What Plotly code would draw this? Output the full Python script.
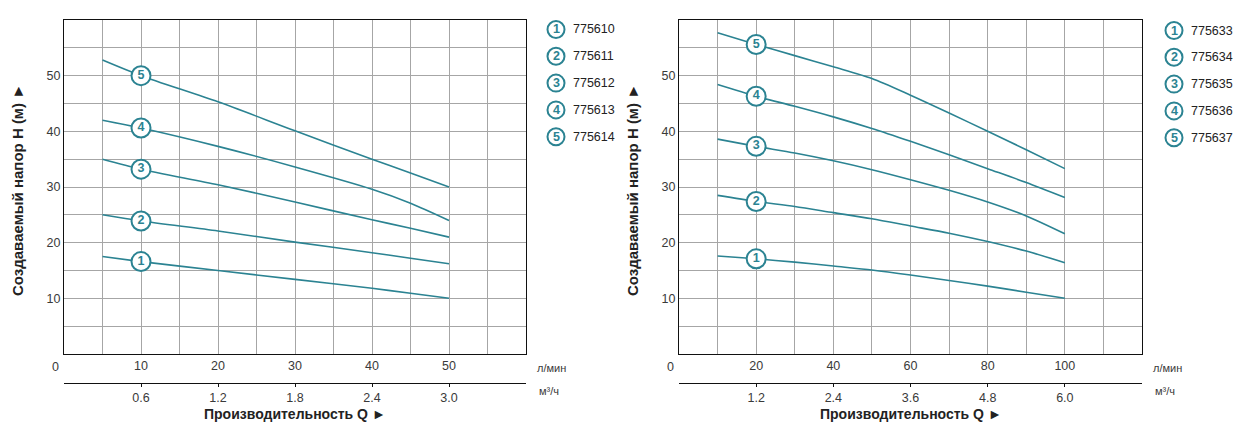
import plotly.graph_objects as go

W, H = 1238, 437

# ---------------- data ----------------
left_flow = [5, 10, 20, 30, 40, 45, 50]          # л/мин
left_heads = [
    [17.5, 16.6, 15.0, 13.4, 11.8, 10.9, 10.0],
    [25.0, 23.9, 22.1, 20.1, 18.2, 17.2, 16.2],
    [35.0, 33.2, 30.4, 27.3, 24.1, 22.6, 21.0],
    [42.0, 40.6, 37.3, 33.6, 29.6, 27.1, 24.0],
    [52.8, 50.0, 45.3, 40.1, 35.0, 32.5, 30.0],
]
left_models = ["775610", "775611", "775612", "775613", "775614"]
left_label_idx = 1  # label placed at 10 л/мин
left_x_ticks = [10, 20, 30, 40, 50]
left_q_ticks = ["0.6", "1.2", "1.8", "2.4", "3.0"]

right_flow = [10, 20, 30, 40, 50, 60, 70, 80, 90, 100]
right_heads = [
    [17.6, 17.1, 16.5, 15.8, 15.1, 14.2, 13.2, 12.2, 11.1, 10.0],
    [28.5, 27.4, 26.5, 25.4, 24.3, 23.0, 21.7, 20.2, 18.5, 16.4],
    [38.6, 37.3, 36.1, 34.7, 33.1, 31.3, 29.4, 27.3, 24.8, 21.6],
    [48.4, 46.3, 44.5, 42.6, 40.5, 38.2, 35.8, 33.3, 30.8, 28.1],
    [57.7, 55.6, 53.6, 51.6, 49.5, 46.5, 43.3, 40.0, 36.7, 33.3],
]
right_models = ["775633", "775634", "775635", "775636", "775637"]
right_label_idx = 1  # label placed at 20 л/мин
right_x_ticks = [20, 40, 60, 80, 100]
right_q_ticks = ["1.2", "2.4", "3.6", "4.8", "6.0"]

y_ticks = [10, 20, 30, 40, 50]
curve_numbers = ["1", "2", "3", "4", "5"]

x_title = "Производительность Q ►"
y_title = "Создаваемый напор H (м) ►"
unit_lmin = "л/мин"
unit_m3h = "м³/ч"

# ---------------- style ----------------
TEAL = "#2b8392"
GRID = "#a6a6a6"
TXT = "#3a3a3a"
FONT = "Liberation Sans, Arial, sans-serif"


def px(x):
    return x / W


def py(y):
    return 1 - y / H


PLOT_TOP, PLOT_BOT = 20, 354
Q_LINE = 382.5
ydom = [py(PLOT_BOT), py(PLOT_TOP)]

panels = [
    dict(flow=left_flow, heads=left_heads, models=left_models, idx=left_label_idx,
         xt=left_x_ticks, qt=left_q_ticks, xmax=60, step=5, x0=64, x1=526,
         ax="x", ay="y", qax="x3", legx=556, legy=29.5),
    dict(flow=right_flow, heads=right_heads, models=right_models, idx=right_label_idx,
         xt=right_x_ticks, qt=right_q_ticks, xmax=120, step=10, x0=679, x1=1142,
         ax="x2", ay="y2", qax="x4", legx=1174, legy=30.5),
]

fig = go.Figure()
annotations = []
shapes = []

for i, p in enumerate(panels):
    for k, h in enumerate(p["heads"]):
        fig.add_trace(go.Scatter(
            x=p["flow"], y=h, xaxis=p["ax"], yaxis=p["ay"], mode="lines",
            line=dict(color=TEAL, width=1.6, shape="spline", smoothing=0.8),
            hoverinfo="skip", showlegend=False))
    fig.add_trace(go.Scatter(
        x=[p["flow"][p["idx"]]] * len(p["heads"]),
        y=[h[p["idx"]] for h in p["heads"]],
        xaxis=p["ax"], yaxis=p["ay"], mode="markers+text",
        text=["<b>" + n + "</b>" for n in curve_numbers], textposition="middle center",
        textfont=dict(family=FONT, size=12.5, color=TEAL),
        marker=dict(symbol="circle", size=19, color="white",
                    line=dict(color=TEAL, width=2)),
        hoverinfo="skip", showlegend=False))
    # dummy trace to activate secondary (m3/h) axis
    fig.add_trace(go.Scatter(x=[p["xt"][0]], y=[None], xaxis=p["qax"], yaxis=p["ay"],
                             mode="markers", marker=dict(opacity=0),
                             hoverinfo="skip", showlegend=False))

    grid_vals = list(range(0, p["xmax"] + 1, p["step"]))
    xtext = [str(v) if v in p["xt"] else "" for v in grid_vals]
    dom = [px(p["x0"]), px(p["x1"])]
    axname = "xaxis" if p["ax"] == "x" else "xaxis2"
    ayname = "yaxis" if p["ay"] == "y" else "yaxis2"
    qname = "xaxis3" if p["qax"] == "x3" else "xaxis4"
    fig.update_layout(**{
        axname: dict(domain=dom, range=[0, p["xmax"]], anchor=p["ay"],
                     tickmode="array", tickvals=grid_vals, ticktext=xtext,
                     showgrid=True, gridcolor=GRID, gridwidth=1,
                     showline=True, linecolor="#111", linewidth=1.2, mirror=True,
                     ticks="", zeroline=False,
                     tickfont=dict(family=FONT, size=12.5, color=TXT)),
        ayname: dict(domain=ydom, range=[0, 60], anchor=p["ax"],
                     tickmode="array", tickvals=list(range(0, 61, 5)),
                     ticktext=[str(v) if v in y_ticks else "" for v in range(0, 61, 5)],
                     showgrid=True, gridcolor=GRID, gridwidth=1,
                     showline=True, linecolor="#111", linewidth=1.2, mirror=True,
                     ticks="", zeroline=False,
                     tickfont=dict(family=FONT, size=12.5, color=TXT)),
        qname: dict(domain=dom, range=[0, p["xmax"]], anchor="free",
                    overlaying=p["ax"], position=py(Q_LINE), side="bottom",
                    tickmode="array", tickvals=p["xt"], ticktext=p["qt"],
                    showgrid=False, showline=True, linecolor="#111", linewidth=1.2,
                    ticks="outside", ticklen=3, tickcolor="#111", zeroline=False,
                    tickfont=dict(family=FONT, size=12.5, color=TXT)),
    })

    # zero label, units
    annotations.append(dict(text="0", x=px(p["x0"] - 9), y=py(367), xref="paper", yref="paper",
                            showarrow=False, xanchor="center", yanchor="middle",
                            font=dict(family=FONT, size=12.5, color=TXT)))
    annotations.append(dict(text=unit_lmin, x=px(p["x1"] + 9), y=py(368), xref="paper", yref="paper",
                            showarrow=False, xanchor="left", yanchor="middle",
                            font=dict(family=FONT, size=11, color=TXT)))
    annotations.append(dict(text=unit_m3h, x=px(p["x1"] + 11), y=py(391), xref="paper", yref="paper",
                            showarrow=False, xanchor="left", yanchor="middle",
                            font=dict(family=FONT, size=11, color=TXT)))
    # titles
    annotations.append(dict(text="<b>" + x_title + "</b>", x=px((p["x0"] + p["x1"]) / 2), y=py(414),
                            xref="paper", yref="paper", showarrow=False,
                            xanchor="center", yanchor="middle",
                            font=dict(family=FONT, size=14, color="#222")))
    annotations.append(dict(text="<b>" + y_title + "</b>", x=px(p["x0"] - 46), y=py(190),
                            xref="paper", yref="paper", showarrow=False, textangle=-90,
                            xanchor="center", yanchor="middle",
                            font=dict(family=FONT, size=15, color="#222")))
    # legend
    for k, m in enumerate(p["models"]):
        yy = p["legy"] + k * 26.8
        shapes.append(dict(type="circle", xref="paper", yref="paper",
                           xsizemode="pixel", ysizemode="pixel",
                           xanchor=px(p["legx"]), yanchor=py(yy),
                           x0=-8.5, x1=8.5, y0=-8.5, y1=8.5,
                           line=dict(color=TEAL, width=2), fillcolor="white"))
        annotations.append(dict(text="<b>" + curve_numbers[k] + "</b>", x=px(p["legx"]), y=py(yy),
                                xref="paper", yref="paper", showarrow=False,
                                xanchor="center", yanchor="middle",
                                font=dict(family=FONT, size=12.5, color=TEAL)))
        annotations.append(dict(text=m, x=px(p["legx"] + 15), y=py(yy),
                                xref="paper", yref="paper", showarrow=False,
                                xanchor="left", yanchor="middle",
                                font=dict(family=FONT, size=12.5, color="#222")))

fig.update_layout(width=W, height=H, margin=dict(l=0, r=0, t=0, b=0),
                  paper_bgcolor="white", plot_bgcolor="white",
                  annotations=annotations, shapes=shapes, showlegend=False,
                  font=dict(family=FONT))

fig.write_html("out.html", config={"displayModeBar": False})

# remove default page margin so the figure sits at the window origin
with open("out.html", "r", encoding="utf-8") as f:
    html = f.read()
html = html.replace("<body>", '<body style="margin:0;padding:0;overflow:hidden">', 1)
with open("out.html", "w", encoding="utf-8") as f:
    f.write(html)
